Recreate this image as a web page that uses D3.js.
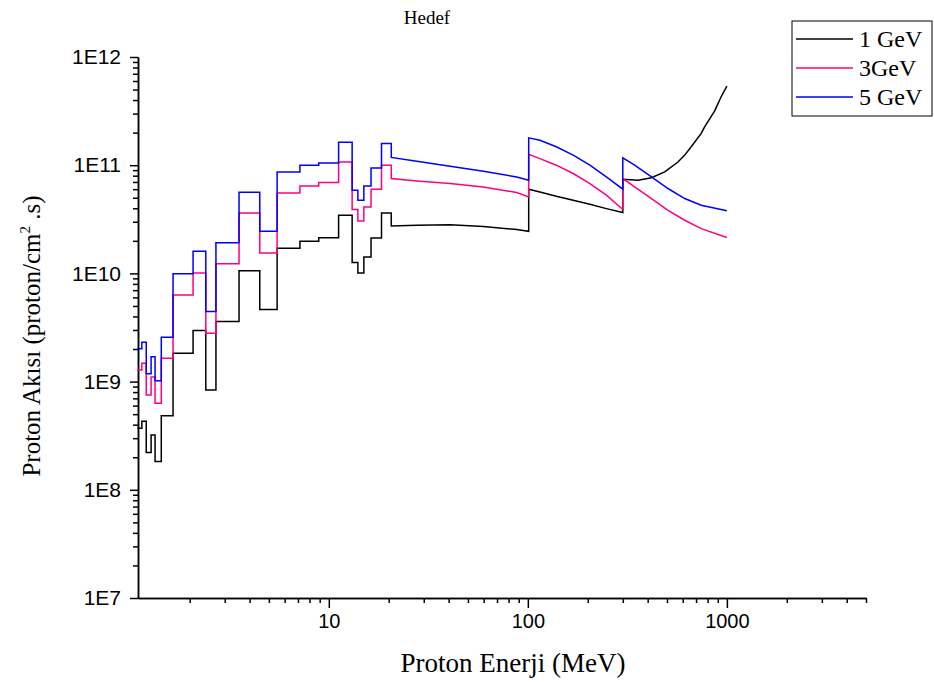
<!DOCTYPE html>
<html><head><meta charset="utf-8">
<script src="https://cdn.jsdelivr.net/npm/d3@7"></script>
<style>body{margin:0;background:#fff}</style>
</head><body><svg id="c" width="934" height="684"></svg>
<script>
// ---- data ----
const binEdges = [1.09, 1.15, 1.21, 1.28, 1.34, 1.44, 1.65, 2.08, 2.41, 2.71, 3.54, 4.5, 5.5, 7.16, 8.9, 11.2, 13.1, 14.0, 15.0, 16.3, 18.4, 20.6];
const bins1GeV = [3.70e8, 4.29e8, 2.21e8, 3.21e8, 1.83e8, 4.84e8, 1.83e9, 2.97e9, 8.38e8, 3.59e9, 1.06e10, 4.64e9, 1.71e10, 1.98e10, 2.14e10, 3.44e10, 1.26e10, 1.01e10, 1.42e10, 2.12e10, 3.62e10];
const bins3GeV = [1.28e9, 1.48e9, 7.53e8, 1.10e9, 6.30e8, 1.64e9, 6.30e9, 1.01e10, 2.80e9, 1.23e10, 3.62e10, 1.54e10, 5.54e10, 6.43e10, 6.92e10, 1.07e11, 3.89e10, 3.05e10, 4.11e10, 6.0e10, 1.0e11];
const bins5GeV = [2.01e9, 2.31e9, 1.18e9, 1.70e9, 1.02e9, 2.57e9, 9.94e9, 1.60e10, 4.45e9, 1.92e10, 5.62e10, 2.45e10, 8.67e10, 1.0e11, 1.05e11, 1.63e11, 5.87e10, 4.74e10, 6.43e10, 9.44e10, 1.59e11];

const cont1GeV = [[20.6, 2.74e10], [27.7, 2.78e10], [40.7, 2.82e10], [59.8, 2.72e10], [87.9, 2.54e10], [101, 2.45e10],
  [101, 6.0e10], [115, 5.66e10], [139, 5.16e10], [169, 4.74e10], [205, 4.35e10], [248, 3.97e10], [300, 3.65e10],
  [300, 7.42e10], [358, 7.26e10], [418, 7.66e10], [487, 8.67e10], [568, 1.07e11], [614, 1.24e11], [662, 1.48e11],
  [743, 1.97e11], [773, 2.26e11], [867, 3.16e11], [936, 4.29e11], [1000, 5.39e11]];
const cont3GeV = [[20.6, 7.53e10], [27.7, 7.16e10], [40.7, 6.77e10], [59.8, 6.30e10], [87.9, 5.59e10], [101, 5.09e10],
  [101, 1.26e11], [115, 1.15e11], [139, 1.0e11], [169, 8.38e10], [205, 6.77e10], [248, 5.28e10], [300, 3.9e10],
  [300, 7.53e10], [344, 6.30e10], [418, 4.92e10], [506, 3.83e10], [614, 3.10e10], [743, 2.59e10], [1000, 2.15e10]];
const cont5GeV = [[20.6, 1.18e11], [27.7, 1.09e11], [40.7, 9.79e10], [59.8, 8.80e10], [87.9, 7.79e10], [101, 7.26e10],
  [101, 1.79e11], [115, 1.70e11], [139, 1.48e11], [169, 1.24e11], [205, 1.0e11], [248, 7.79e10], [300, 6.0e10],
  [300, 1.17e11], [344, 1.0e11], [418, 7.79e10], [506, 6.09e10], [614, 4.92e10], [743, 4.26e10], [1000, 3.8e10]];

const seriesNames = ["1 GeV", "3GeV", "5 GeV"];
const seriesColors = ["#000000", "#ff0080", "#0000ff"];
const yTickValues = [1e7, 1e8, 1e9, 1e10, 1e11, 1e12];
const yTickLabels = ["1E7", "1E8", "1E9", "1E10", "1E11", "1E12"];
const xTickValues = [10, 100, 1000];
const xTickLabels = ["10", "100", "1000"];
const titleText = "Hedef";
const xTitle = "Proton Enerji (MeV)";

// ---- chart ----
const svg = d3.select("#c");
const L = 138, R = 866, T = 57, B = 598;
const x = d3.scaleLog().domain([1.1, 5000]).range([L, R]);
const y = d3.scaleLog().domain([1e7, 1e12]).range([B, T]);

const xMinor = [];
[1, 10, 100, 1000].forEach(d => { for (let k = 2; k <= 9; k++) { const v = d * k; if (v >= 1.1 && v <= 5000 && !xTickValues.includes(v)) xMinor.push(v); } });
const yMinor = [];
[1e7, 1e8, 1e9, 1e10, 1e11].forEach(d => { for (let k = 2; k <= 9; k++) yMinor.push(d * k); });

const axStyle = g => { g.selectAll("path,line").attr("stroke", "#000").attr("stroke-width", 1.5); };
const sans = "Liberation Sans, Arial, sans-serif";

svg.append("g").attr("transform", `translate(0,${B})`)
  .call(d3.axisBottom(x).tickValues(xMinor).tickSize(5).tickSizeOuter(0).tickFormat(""))
  .call(axStyle);
svg.append("g").attr("transform", `translate(0,${B})`)
  .call(d3.axisBottom(x).tickValues(xTickValues).tickSize(10).tickSizeOuter(0).tickPadding(6)
    .tickFormat((d, i) => xTickLabels[i]))
  .call(axStyle)
  .call(g => g.selectAll("text").attr("font-family", sans).attr("font-size", 20).attr("fill", "#000"));

svg.append("g").attr("transform", `translate(${L},0)`)
  .call(d3.axisLeft(y).tickValues(yMinor).tickSize(5).tickSizeOuter(0).tickFormat(""))
  .call(axStyle);
svg.append("g").attr("transform", `translate(${L},0)`)
  .call(d3.axisLeft(y).tickValues(yTickValues).tickSize(8).tickSizeOuter(0).tickPadding(9)
    .tickFormat((d, i) => yTickLabels[i]))
  .call(axStyle)
  .call(g => g.selectAll("text").attr("font-family", sans).attr("font-size", 21).attr("fill", "#000"));

const bins = [bins1GeV, bins3GeV, bins5GeV];
const conts = [cont1GeV, cont3GeV, cont5GeV];
const line = d3.line().x(d => x(d[0])).y(d => y(d[1]));
[0, 1, 2].forEach(s => {
  const pts = [];
  bins[s].forEach((v, i) => { pts.push([binEdges[i], v]); pts.push([binEdges[i + 1], v]); });
  conts[s].forEach(p => pts.push(p));
  svg.append("path").attr("d", line(pts)).attr("fill", "none")
    .attr("stroke", seriesColors[s]).attr("stroke-width", 1.5).attr("stroke-linejoin", "miter");
});

const serif = "Liberation Serif, Times New Roman, serif";
svg.append("text").attr("x", 427).attr("y", 24).attr("text-anchor", "middle")
  .attr("font-family", serif).attr("font-size", 19).text(titleText);
svg.append("text").attr("x", 513).attr("y", 672).attr("text-anchor", "middle")
  .attr("font-family", serif).attr("font-size", 27).text(xTitle);
const yt = svg.append("text").attr("transform", "translate(40,336) rotate(-90)").attr("text-anchor", "middle")
  .attr("font-family", serif).attr("font-size", 25);
yt.append("tspan").text("Proton Akısı (proton/cm");
yt.append("tspan").attr("dy", -10).attr("font-size", 15).text("2");
yt.append("tspan").attr("dy", 10).text(" .s)");

// legend
const lg = svg.append("g");
lg.append("rect").attr("x", 792).attr("y", 21).attr("width", 140).attr("height", 95)
  .attr("fill", "#fff").attr("stroke", "#000").attr("stroke-width", 1);
seriesNames.forEach((n, i) => {
  const cy = 39 + i * 29;
  lg.append("line").attr("x1", 796).attr("x2", 853).attr("y1", cy).attr("y2", cy)
    .attr("stroke", seriesColors[i]).attr("stroke-width", 1.5);
  lg.append("text").attr("x", 859).attr("y", cy + 8).attr("font-family", serif).attr("font-size", 24).text(n);
});
</script></body></html>
